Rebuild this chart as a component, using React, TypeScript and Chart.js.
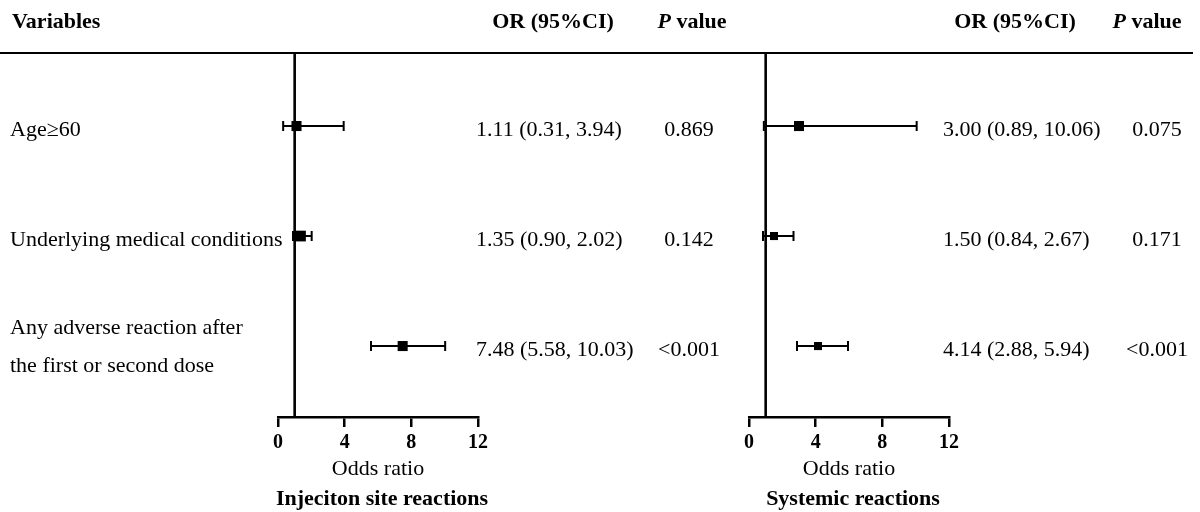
import React, { useEffect, useRef } from "react";
import { Chart, registerables } from "chart.js";

Chart.register(...registerables);

// ---------------- data ----------------
const variables: string[][] = [
  ["Age≥60"],
  ["Underlying medical conditions"],
  ["Any adverse reaction after", "the first or second dose"],
];
const rowIndex = [1, 2, 3];

const injOR = [1.11, 1.35, 7.48];
const injLow = [0.31, 0.9, 5.58];
const injHigh = [3.94, 2.02, 10.03];
const injP = ["0.869", "0.142", "<0.001"];

const sysOR = [3.0, 1.5, 4.14];
const sysLow = [0.89, 0.84, 2.88];
const sysHigh = [10.06, 2.67, 5.94];
const sysP = ["0.075", "0.171", "<0.001"];

const xTicks = [0, 4, 8, 12];
const refValue = 1;

const panelTitles = ["Injeciton site reactions", "Systemic reactions"];
const axisTitle = "Odds ratio";
const headerVar = "Variables";
const headerOR = "OR (95%CI)";

// ---------------- style / layout ----------------
const FONT = "'Liberation Serif', 'Times New Roman', Times, serif";
const W = 1200;
const H = 512;
const TOP = 53;
const AXIS_H = 95;
const Y_MIN = 0.336;
const Y_MAX = 3.645;

type Panel = {
  or: number[];
  low: number[];
  high: number[];
  p: string[];
  title: string;
  left: number;
  right: number;
  markerR: number[];
  orX: number;
  pX: number;
  headOrX: number;
  headPX: number;
};

const panels: Panel[] = [
  {
    or: injOR, low: injLow, high: injHigh, p: injP, title: panelTitles[0],
    left: 278, right: 478, markerR: [7.1, 7.6, 7.1],
    orX: 476, pX: 689, headOrX: 553, headPX: 692,
  },
  {
    or: sysOR, low: sysLow, high: sysHigh, p: sysP, title: panelTitles[1],
    left: 749, right: 949, markerR: [7.1, 5.7, 5.7],
    orX: 943, pX: 1157, headOrX: 1015, headPX: 1147,
  },
];

const fmt = (v: number) => v.toFixed(2);

function drawPValueHeader(ctx: CanvasRenderingContext2D, cx: number, y: number) {
  ctx.font = `italic bold 22px ${FONT}`;
  const wP = ctx.measureText("P").width;
  ctx.font = `bold 22px ${FONT}`;
  const wV = ctx.measureText(" value").width;
  const x0 = cx - (wP + wV) / 2;
  ctx.textAlign = "left";
  ctx.font = `italic bold 22px ${FONT}`;
  ctx.fillText("P", x0, y);
  ctx.font = `bold 22px ${FONT}`;
  ctx.fillText(" value", x0 + wP, y);
}

function makeChart(canvas: HTMLCanvasElement, panel: Panel, shared: boolean) {
  const whiskers = {
    id: "whiskers",
    beforeDatasetsDraw(chart: any) {
      const ctx = chart.ctx as CanvasRenderingContext2D;
      const xs = chart.scales.x;
      const ys = chart.scales.y;
      ctx.save();
      ctx.strokeStyle = "#000";
      ctx.lineWidth = 2;
      for (let i = 0; i < panel.or.length; i++) {
        const yp = ys.getPixelForValue(rowIndex[i]);
        const x1 = xs.getPixelForValue(panel.low[i]);
        const x2 = xs.getPixelForValue(panel.high[i]);
        ctx.beginPath();
        ctx.moveTo(x1, yp);
        ctx.lineTo(x2, yp);
        ctx.moveTo(x1, yp - 5);
        ctx.lineTo(x1, yp + 5);
        ctx.moveTo(x2, yp - 5);
        ctx.lineTo(x2, yp + 5);
        ctx.stroke();
      }
      ctx.restore();
    },
  };

  const texts = {
    id: "texts",
    afterDraw(chart: any) {
      const ctx = chart.ctx as CanvasRenderingContext2D;
      const xs = chart.scales.x;
      const ys = chart.scales.y;
      ctx.save();
      ctx.fillStyle = "#000";
      ctx.textBaseline = "alphabetic";

      if (shared) {
        // top rule
        ctx.strokeStyle = "#000";
        ctx.lineWidth = 2;
        ctx.beginPath();
        ctx.moveTo(0, TOP);
        ctx.lineTo(1193, TOP);
        ctx.stroke();
        // header
        ctx.font = `bold 22px ${FONT}`;
        ctx.textAlign = "left";
        ctx.fillText(headerVar, 12, 28);
        // variable labels
        ctx.font = `22px ${FONT}`;
        variables.forEach((lines, i) => {
          const yp = ys.getPixelForValue(rowIndex[i]);
          if (lines.length === 1) {
            ctx.fillText(lines[0], 10, yp + 10);
          } else {
            ctx.fillText(lines[0], 10, yp - 12);
            ctx.fillText(lines[1], 10, yp + 26);
          }
        });
      }

      // panel headers
      ctx.font = `bold 22px ${FONT}`;
      ctx.textAlign = "center";
      ctx.fillText(headerOR, panel.headOrX, 28);
      drawPValueHeader(ctx, panel.headPX, 28);

      // OR and P columns
      ctx.font = `22px ${FONT}`;
      for (let i = 0; i < panel.or.length; i++) {
        const yp = ys.getPixelForValue(rowIndex[i]);
        ctx.textAlign = "left";
        ctx.fillText(
          `${fmt(panel.or[i])} (${fmt(panel.low[i])}, ${fmt(panel.high[i])})`,
          panel.orX,
          yp + 10
        );
        ctx.textAlign = "center";
        ctx.fillText(panel.p[i], panel.pX, yp + 10);
      }

      // axis title and panel title
      const cx = (xs.left + xs.right) / 2;
      ctx.textAlign = "center";
      ctx.font = `22px ${FONT}`;
      ctx.fillText(axisTitle, cx, 475);
      ctx.font = `bold 22px ${FONT}`;
      ctx.fillText(panel.title, cx + 4, 505);
      ctx.restore();
    },
  };

  return new Chart(canvas, {
    type: "scatter",
    data: {
      datasets: [
        {
          label: "OR",
          data: panel.or.map((v, i) => ({ x: v, y: rowIndex[i] })),
          pointStyle: "rect",
          pointRadius: panel.markerR,
          backgroundColor: "#000",
          borderColor: "#000",
          borderWidth: 0,
        },
        {
          label: "ref",
          type: "line",
          data: [
            { x: refValue, y: Y_MIN },
            { x: refValue, y: Y_MAX },
          ],
          borderColor: "#000",
          borderWidth: 2.6,
          pointRadius: 0,
          showLine: true,
          fill: false,
        } as any,
      ],
    },
    options: {
      animation: false,
      responsive: false,
      devicePixelRatio: 1,
      events: [],
      layout: {
        padding: { left: panel.left, right: W - panel.right, top: TOP, bottom: 0 },
      },
      plugins: {
        legend: { display: false },
        tooltip: { enabled: false },
      },
      scales: {
        x: {
          type: "linear",
          position: "bottom",
          min: xTicks[0],
          max: xTicks[xTicks.length - 1],
          afterBuildTicks: (s: any) => {
            s.ticks = xTicks.map((v) => ({ value: v }));
          },
          afterFit: (s: any) => {
            s.height = AXIS_H;
          },
          ticks: {
            color: "#000",
            font: { family: FONT, size: 20, weight: "bold" },
            padding: 4,
            maxRotation: 0,
            autoSkip: false,
          },
          grid: {
            display: true,
            drawOnChartArea: false,
            drawTicks: true,
            tickLength: 10,
            color: "#000",
            lineWidth: 2.5,
          },
          border: { display: true, color: "#000", width: 2.5 },
        },
        y: {
          type: "linear",
          display: false,
          reverse: true,
          min: Y_MIN,
          max: Y_MAX,
        },
      },
    },
    plugins: [whiskers, texts],
  } as any);
}

export default function App() {
  const ref1 = useRef<HTMLCanvasElement | null>(null);
  const ref2 = useRef<HTMLCanvasElement | null>(null);

  useEffect(() => {
    const c1 = makeChart(ref1.current!, panels[0], true);
    const c2 = makeChart(ref2.current!, panels[1], false);
    return () => {
      c1.destroy();
      c2.destroy();
    };
  }, []);

  const canvasStyle: React.CSSProperties = {
    position: "absolute",
    left: 0,
    top: 0,
    width: W,
    height: H,
  };

  return (
    <div
      style={{
        position: "fixed",
        left: 0,
        top: 0,
        width: W,
        height: H,
        background: "#fff",
      }}
    >
      <canvas ref={ref1} width={W} height={H} style={canvasStyle} />
      <canvas ref={ref2} width={W} height={H} style={canvasStyle} />
    </div>
  );
}
